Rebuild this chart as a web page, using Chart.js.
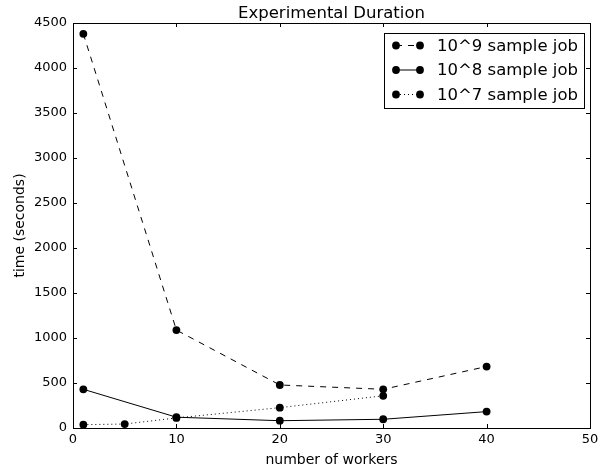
<!DOCTYPE html>
<html>
<head>
<meta charset="utf-8">
<script src="https://cdn.jsdelivr.net/npm/chart.js@4"></script>
<style>
  html, body { margin: 0; padding: 0; background: #fff; }
  #wrap { width: 608px; height: 473px; position: relative; }
</style>
</head>
<body>
<div id="wrap"><canvas id="chart"></canvas></div>
<script>
// values
const labels9 = [1, 10, 20, 30, 40];
const times9 = [4380, 1088, 478, 430, 683];
const labels8 = [1, 10, 20, 30, 40];
const times8 = [430, 120, 81, 97, 182];
const labels7 = [1, 5, 10, 20, 30];
const times7 = [37, 44, 112, 226, 358];
const seriesNames = ['10^9 sample job', '10^8 sample job', '10^7 sample job'];
const xTicks = [0, 10, 20, 30, 40, 50];
const yTicks = [0, 500, 1000, 1500, 2000, 2500, 3000, 3500, 4000, 4500];

const FONT = 'DejaVu Sans';
const DOT = 3.9;

function toPoints(xs, ys) {
    return xs.map((x, i) => ({ x: x, y: ys[i] }));
}

function makeSet(name, xs, ys, dash) {
    return {
        label: name,
        data: toPoints(xs, ys),
        borderColor: '#000',
        backgroundColor: '#000',
        borderWidth: 1,
        borderDash: dash,
        pointRadius: DOT,
        pointBorderWidth: 0,
        pointBackgroundColor: '#000',
        tension: 0,
        fill: false
    };
}

// frame, inward ticks on all four sides, title and legend box
const mplLook = {
    id: 'mplLook',
    afterDraw(chart) {
        const ctx = chart.ctx;
        const a = chart.chartArea;
        const xs = chart.scales.x, ys = chart.scales.y;
        ctx.save();
        ctx.strokeStyle = '#000';
        ctx.lineWidth = 1;
        ctx.strokeRect(Math.round(a.left) + 0.5, Math.round(a.top) + 0.5,
            Math.round(a.right - a.left), Math.round(a.bottom - a.top));
        ctx.beginPath();
        xTicks.forEach(v => {
            const px = Math.round(xs.getPixelForValue(v)) + 0.5;
            ctx.moveTo(px, a.bottom); ctx.lineTo(px, a.bottom - 4);
            ctx.moveTo(px, a.top); ctx.lineTo(px, a.top + 4);
        });
        yTicks.forEach(v => {
            const py = Math.round(ys.getPixelForValue(v)) + 0.5;
            ctx.moveTo(a.left, py); ctx.lineTo(a.left + 4, py);
            ctx.moveTo(a.right, py); ctx.lineTo(a.right - 4, py);
        });
        ctx.stroke();

        // title
        ctx.fillStyle = '#000';
        ctx.font = '16.5px "' + FONT + '"';
        ctx.textAlign = 'center';
        ctx.textBaseline = 'alphabetic';
        ctx.fillText('Experimental Duration', (a.left + a.right) / 2, 18);

        // legend
        const bx = 384, by = 33, bw = 200, bh = 75;
        ctx.fillStyle = '#fff';
        ctx.fillRect(bx, by, bw, bh);
        ctx.strokeRect(bx + 0.5, by + 0.5, bw, bh);
        ctx.font = '16.5px "' + FONT + '"';
        ctx.textAlign = 'left';
        ctx.textBaseline = 'middle';
        chart.data.datasets.forEach((ds, i) => {
            const cy = by + 12.5 + i * 24.5;
            ctx.beginPath();
            ctx.setLineDash(ds.borderDash || []);
            ctx.moveTo(396, cy); ctx.lineTo(420, cy);
            ctx.stroke();
            ctx.setLineDash([]);
            ctx.fillStyle = '#000';
            [396, 420].forEach(px => {
                ctx.beginPath();
                ctx.arc(px, cy, DOT, 0, Math.PI * 2);
                ctx.fill();
            });
            ctx.fillText(ds.label, 437, cy + 1);
        });
        ctx.restore();
    }
};

new Chart(document.getElementById('chart'), {
    type: 'line',
    data: {
        datasets: [
            makeSet(seriesNames[0], labels9, times9, [6, 6]),
            makeSet(seriesNames[1], labels8, times8, []),
            makeSet(seriesNames[2], labels7, times7, [1, 3])
        ]
    },
    options: {
        responsive: true,
        maintainAspectRatio: false,
        animation: false,
        layout: { padding: { top: 23, right: 18, left: 0, bottom: 0 } },
        plugins: {
            legend: { display: false },
            tooltip: { enabled: false },
            title: { display: false }
        },
        scales: {
            x: {
                type: 'linear',
                min: 0,
                max: 50,
                afterBuildTicks: s => { s.ticks = xTicks.map(v => ({ value: v })); },
                afterFit: s => { s.height = 45; },
                grid: { display: false, drawTicks: false },
                border: { display: false },
                ticks: { color: '#000', font: { family: FONT, size: 13 }, padding: 4, maxRotation: 0,
                    callback: v => String(v) },
                title: { display: true, text: 'number of workers', color: '#000',
                    font: { family: FONT, size: 14 }, padding: { top: 0, bottom: 4 } }
            },
            y: {
                type: 'linear',
                min: 0,
                max: 4500,
                afterBuildTicks: s => { s.ticks = yTicks.map(v => ({ value: v })); },
                afterFit: s => { s.width = 73; },
                grid: { display: false, drawTicks: false },
                border: { display: false },
                ticks: { color: '#000', font: { family: FONT, size: 13 }, padding: 6,
                    callback: v => String(v) },
                title: { display: true, text: 'time (seconds)', color: '#000',
                    font: { family: FONT, size: 14 }, padding: { top: 12, bottom: 0 } }
            }
        }
    },
    plugins: [mplLook]
});
</script>
</body>
</html>
